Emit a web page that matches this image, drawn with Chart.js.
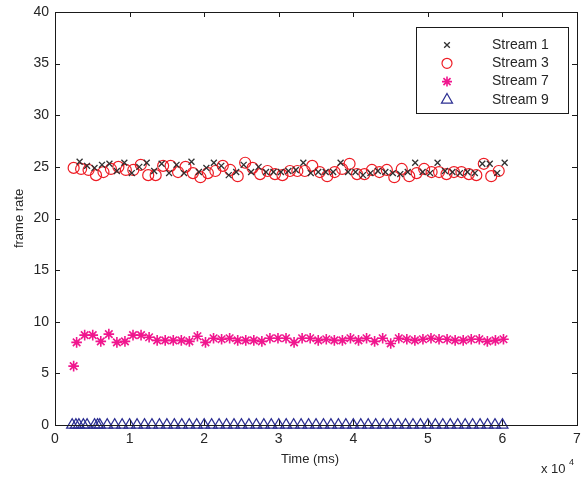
<!DOCTYPE html>
<html>
<head>
<meta charset="utf-8">
<script src="https://cdn.jsdelivr.net/npm/chart.js@4/dist/chart.umd.min.js"></script>
<style>
html,body{margin:0;padding:0;background:#fff;}
#wrap{width:581px;height:480px;position:relative;}
</style>
</head>
<body>
<div id="wrap"><canvas id="c" width="581" height="480"></canvas></div>
<script>
// ---- data ----
const seriesNames = ["Stream 1", "Stream 3", "Stream 7", "Stream 9"];
const xTickValues = [0, 10000, 20000, 30000, 40000, 50000, 60000, 70000];
const yTickValues = [0, 5, 10, 15, 20, 25, 30, 35, 40];

const stream1Time = [3300,4300,5300,6300,7300,8300,9300,10300,11300,12300,13300,14300,15300,16300,17300,18300,19300,20300,21300,22300,23300,24300,25300,26300,27300,28300,29300,30300,31300,32300,33300,34300,35300,36300,37300,38300,39300,40300,41300,42300,43300,44300,45300,46300,47300,48300,49300,50300,51300,52300,53300,54300,55300,56300,57300,58300,59300,60300];
const stream1Rate = [25.5,25.1,24.9,25.2,25.3,24.6,25.4,24.4,25.0,25.4,24.6,25.3,24.4,25.2,24.4,25.5,24.5,24.9,25.4,25.1,24.2,24.5,25.2,24.5,25.0,24.5,24.5,24.5,24.6,24.7,25.4,24.4,24.5,24.5,24.5,25.4,24.5,24.5,24.2,24.4,24.6,24.5,24.4,24.3,24.5,25.4,24.5,24.4,25.4,24.6,24.5,24.4,24.5,24.4,25.3,25.3,24.4,25.4];

const stream3Time = [2500,3500,4500,5500,6500,7500,8500,9500,10500,11500,12500,13500,14500,15500,16500,17500,18500,19500,20500,21500,22500,23500,24500,25500,26500,27500,28500,29500,30500,31500,32500,33500,34500,35500,36500,37500,38500,39500,40500,41500,42500,43500,44500,45500,46500,47500,48500,49500,50500,51500,52500,53500,54500,55500,56500,57500,58500,59500];
const stream3Rate = [24.9,24.8,24.7,24.2,24.5,24.8,25.0,24.7,24.7,25.2,24.2,24.2,25.1,25.1,24.5,25.0,24.4,24.0,24.4,24.6,25.1,24.7,24.1,25.4,24.9,24.3,24.6,24.3,24.2,24.6,24.6,24.6,25.1,24.5,24.1,24.5,24.8,25.3,24.3,24.3,24.7,24.5,24.7,24.0,24.8,24.1,24.4,24.8,24.5,24.5,24.3,24.5,24.5,24.3,24.2,25.3,24.1,24.6];

const stream7Time = [2500,2900,3980,5060,6140,7220,8300,9380,10460,11540,12620,13700,14780,15860,16940,18020,19100,20180,21260,22340,23420,24500,25580,26660,27740,28820,29900,30980,32060,33140,34220,35300,36380,37460,38540,39620,40700,41780,42860,43940,45020,46100,47180,48260,49340,50420,51500,52580,53660,54740,55820,56900,57980,59060,60140];
const stream7Rate = [5.7,8.0,8.7,8.7,8.1,8.8,8.0,8.1,8.7,8.7,8.5,8.2,8.2,8.2,8.2,8.1,8.6,8.0,8.4,8.3,8.4,8.2,8.2,8.2,8.1,8.4,8.4,8.4,8.0,8.4,8.4,8.2,8.3,8.2,8.2,8.4,8.2,8.4,8.1,8.4,7.9,8.4,8.3,8.2,8.3,8.4,8.3,8.3,8.2,8.2,8.3,8.3,8.1,8.2,8.3];

const stream9Time = [2300,2800,3200,3800,4300,5300,5700,6000,7000,8000,9000,10000,11000,12000,13000,14000,15000,16000,17000,18000,19000,20000,21000,22000,23000,24000,25000,26000,27000,28000,29000,30000,31000,32000,33000,34000,35000,36000,37000,38000,39000,40000,41000,42000,43000,44000,45000,46000,47000,48000,49000,50000,51000,52000,53000,54000,55000,56000,57000,58000,59000,60000];
const stream9Rate = [0,0,0,0,0,0,0,0,0,0,0,0,0,0,0,0,0,0,0,0,0,0,0,0,0,0,0,0,0,0,0,0,0,0,0,0,0,0,0,0,0,0,0,0,0,0,0,0,0,0,0,0,0,0,0,0,0,0,0,0,0,0];

function pairs(t, v){ return t.map((x,i)=>({x:x, y:v[i]})); }

const FONT = "'Liberation Sans', Arial, Helvetica, sans-serif";
const TXT = '#262626';

const matlabBox = {
  id:'matlabBox',
  afterDraw(chart){
    const ctx = chart.ctx, a = chart.chartArea;
    const xs = chart.scales.x, ys = chart.scales.y;
    ctx.save();
    ctx.strokeStyle = '#1a1a1a';
    ctx.lineWidth = 1;
    ctx.strokeRect(Math.round(a.left)+0.5, Math.round(a.top)+0.5, Math.round(a.right-a.left), Math.round(a.bottom-a.top));
    const tl = 5;
    ctx.beginPath();
    xTickValues.forEach(v=>{
      const px = Math.round(xs.getPixelForValue(v))+0.5;
      ctx.moveTo(px, a.bottom); ctx.lineTo(px, a.bottom-tl);
      ctx.moveTo(px, a.top); ctx.lineTo(px, a.top+tl);
    });
    yTickValues.forEach(v=>{
      const py = Math.round(ys.getPixelForValue(v))+0.5;
      ctx.moveTo(a.left, py); ctx.lineTo(a.left+tl, py);
      ctx.moveTo(a.right, py); ctx.lineTo(a.right-tl, py);
    });
    ctx.stroke();

    // axis titles
    ctx.fillStyle = TXT;
    ctx.font = '13px ' + FONT;
    ctx.textAlign = 'center'; ctx.textBaseline = 'middle';
    ctx.fillText('Time (ms)', 310, 459);
    ctx.save();
    ctx.translate(19, (a.top+a.bottom)/2);
    ctx.rotate(-Math.PI/2);
    ctx.fillText('frame rate', 0, 0);
    ctx.restore();
    // exponent
    ctx.textAlign = 'left'; ctx.textBaseline = 'alphabetic';
    ctx.font = '13px ' + FONT;
    ctx.fillText('x 10', 541, 473);
    ctx.font = '9px ' + FONT;
    ctx.fillText('4', 569, 465);

    // legend
    const lx = 416, ly = 27, lw = 152, lh = 86;
    ctx.fillStyle = '#fff';
    ctx.fillRect(lx, ly, lw, lh);
    ctx.strokeStyle = '#1a1a1a';
    ctx.lineWidth = 1;
    ctx.strokeRect(lx+0.5, ly+0.5, lw, lh);
    chart.data.datasets.forEach((ds, i)=>{
      const y = 45 + i*18.3;
      ctx.save();
      ctx.strokeStyle = ds.borderColor;
      ctx.fillStyle = ds.backgroundColor;
      ctx.lineWidth = ds.borderWidth;
      Chart.helpers.drawPoint(ctx, {pointStyle: ds.pointStyle, radius: ds.legendRadius, rotation: 0, borderWidth: ds.borderWidth}, 447, y);
      ctx.restore();
      ctx.fillStyle = TXT;
      ctx.font = '14px ' + FONT;
      ctx.textAlign = 'left'; ctx.textBaseline = 'middle';
      ctx.fillText(ds.label, 492, y);
    });
    ctx.restore();
  }
};

new Chart(document.getElementById('c'), {
  type: 'scatter',
  data: {
    datasets: [
      {label: seriesNames[0], data: pairs(stream1Time, stream1Rate), pointStyle:'crossRot', pointRadius:4.2, legendRadius:4, borderColor:'#303030', backgroundColor:'#303030', borderWidth:1.3, clip:false},
      {label: seriesNames[1], data: pairs(stream3Time, stream3Rate), pointStyle:'circle', pointRadius:5.5, legendRadius:5, borderColor:'#ee1c24', backgroundColor:'rgba(0,0,0,0)', borderWidth:1.2, clip:false},
      {label: seriesNames[2], data: pairs(stream7Time, stream7Rate), pointStyle:'star', pointRadius:5.3, legendRadius:5, borderColor:'#f0168e', backgroundColor:'#f0168e', borderWidth:1.6, clip:false},
      {label: seriesNames[3], data: pairs(stream9Time, stream9Rate), pointStyle:'triangle', pointRadius:6.4, legendRadius:6.4, borderColor:'#2c2f92', backgroundColor:'rgba(0,0,0,0)', borderWidth:1.2, clip:false}
    ]
  },
  options: {
    responsive:false,
    animation:false,
    events:[],
    layout:{autoPadding:false, padding:{top:12, right:4, left:0, bottom:0}},
    plugins:{legend:{display:false}, tooltip:{enabled:false}},
    scales:{
      x:{
        type:'linear', min:0, max:70000,
        afterFit(s){ s.height = 55; s.paddingLeft = 0; s.paddingRight = 0; },
        afterBuildTicks(s){ s.ticks = xTickValues.map(v=>({value:v})); },
        grid:{display:false, drawTicks:false},
        border:{display:false},
        ticks:{padding:6, color:TXT, font:{family:FONT, size:14}, maxRotation:0, callback:(v)=>String(v/10000)}
      },
      y:{
        type:'linear', min:0, max:40,
        afterFit(s){ s.width = 55; s.paddingTop = 0; s.paddingBottom = 0; },
        afterBuildTicks(s){ s.ticks = yTickValues.map(v=>({value:v})); },
        grid:{display:false, drawTicks:false},
        border:{display:false},
        ticks:{padding:6, color:TXT, font:{family:FONT, size:14}}
      }
    }
  },
  plugins:[matlabBox]
});
</script>
</body>
</html>
